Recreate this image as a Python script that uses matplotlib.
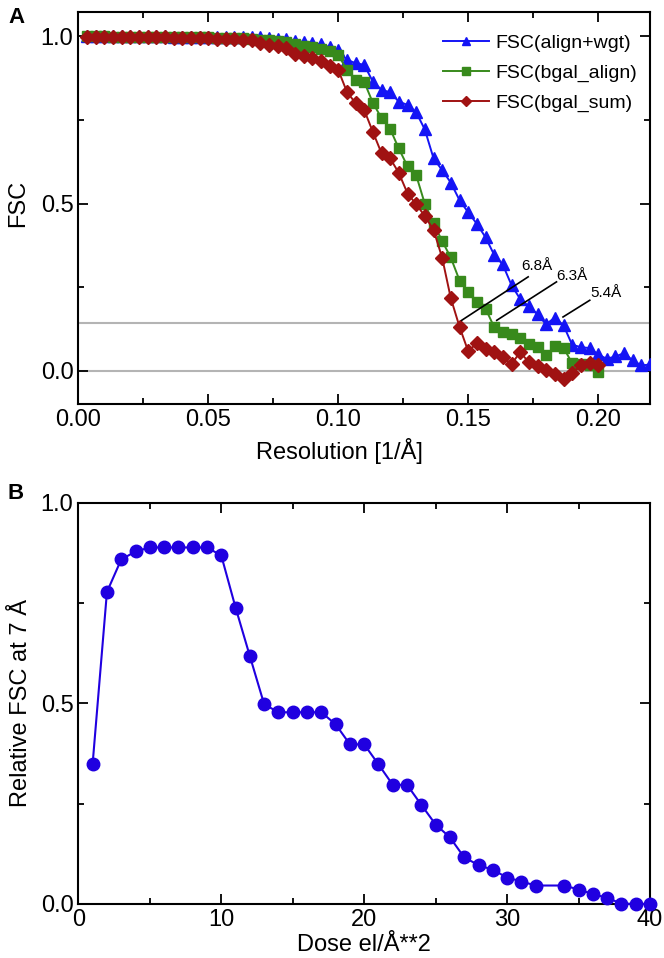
import matplotlib
matplotlib.use('Agg')
import matplotlib.pyplot as plt
from matplotlib.ticker import MultipleLocator

plt.rcParams['font.family'] = ['Liberation Sans', 'DejaVu Sans']

# Panel A: FSC curves (spatial frequency in 1/A)
freq = [0.0033, 0.0067, 0.0100, 0.0133, 0.0167, 0.0200, 0.0233, 0.0267, 0.0300, 0.0333,
        0.0367, 0.0400, 0.0433, 0.0467, 0.0500, 0.0533, 0.0567, 0.0600, 0.0633, 0.0667,
        0.0700, 0.0733, 0.0767, 0.0800, 0.0833, 0.0867, 0.0900, 0.0933, 0.0967, 0.1000,
        0.1033, 0.1067, 0.1100, 0.1133, 0.1167, 0.1200, 0.1233, 0.1267, 0.1300, 0.1333,
        0.1367, 0.1400, 0.1433, 0.1467, 0.1500, 0.1533, 0.1567, 0.1600, 0.1633, 0.1667,
        0.1700, 0.1733, 0.1767, 0.1800, 0.1833, 0.1867, 0.1900, 0.1933, 0.1967, 0.2000,
        0.2033, 0.2067, 0.2100, 0.2133, 0.2167, 0.2200]

fsc_wgt = [1.0, 1.0, 1.0, 1.0, 1.0, 1.0, 1.0, 1.0, 1.0, 1.0,
           0.999, 0.999, 0.999, 0.999, 0.999, 0.999, 0.999, 0.999, 0.999, 0.998,
           0.997, 0.995, 0.993, 0.992, 0.987, 0.983, 0.981, 0.976, 0.968, 0.958,
           0.930, 0.920, 0.915, 0.865, 0.840, 0.833, 0.805, 0.795, 0.773, 0.722,
           0.635, 0.600, 0.563, 0.510, 0.474, 0.440, 0.399, 0.347, 0.318, 0.256,
           0.215, 0.193, 0.169, 0.139, 0.159, 0.136, 0.078, 0.071, 0.068, 0.049,
           0.036, 0.043, 0.053, 0.031, 0.016, 0.019]

fsc_align = [1.0, 1.0, 1.0, 0.999, 0.999, 0.999, 0.999, 0.999, 0.998, 0.998,
             0.998, 0.998, 0.997, 0.997, 0.997, 0.996, 0.996, 0.995, 0.995, 0.993,
             0.990, 0.988, 0.985, 0.982, 0.978, 0.972, 0.967, 0.962, 0.955, 0.945,
             0.900, 0.869, 0.864, 0.802, 0.755, 0.723, 0.665, 0.611, 0.585, 0.500,
             0.441, 0.388, 0.339, 0.270, 0.235, 0.205, 0.186, 0.131, 0.115, 0.110,
             0.099, 0.081, 0.071, 0.046, 0.073, 0.069, 0.023, 0.021, 0.016, -0.004]

fsc_sum = [0.999, 0.999, 0.999, 0.999, 0.998, 0.998, 0.998, 0.998, 0.997, 0.997,
           0.996, 0.996, 0.995, 0.995, 0.994, 0.993, 0.992, 0.991, 0.990, 0.988,
           0.980, 0.975, 0.972, 0.965, 0.947, 0.940, 0.935, 0.925, 0.912, 0.900,
           0.835, 0.800, 0.780, 0.715, 0.650, 0.635, 0.592, 0.530, 0.498, 0.463,
           0.421, 0.338, 0.218, 0.131, 0.059, 0.082, 0.065, 0.055, 0.041, 0.020,
           0.056, 0.026, 0.013, 0.001, -0.008, -0.023, -0.007, 0.016, 0.023, 0.016]

threshold = 0.143

# resolution labels: (text, crossing x, crossing y, line end x, line end y, text x, text y)
res_labels = [
    ('6.8Å', 0.1475, 0.151, 0.1731, 0.281, 0.1765, 0.313),
    ('6.3Å', 0.1610, 0.151, 0.1840, 0.266, 0.1900, 0.283),
    ('5.4Å', 0.1865, 0.161, 0.1968, 0.211, 0.2030, 0.234),
]

# Panel B: relative FSC at 7 A vs dose
dose = [1, 2, 3, 4, 5, 6, 7, 8, 9, 10, 11, 12, 13, 14, 15, 16, 17, 18, 19, 20,
        21, 22, 23, 24, 25, 26, 27, 28, 29, 30, 31, 32, 34, 35, 36, 37, 38, 39, 40]
rel_fsc = [0.350, 0.778, 0.859, 0.879, 0.889, 0.889, 0.889, 0.889, 0.889, 0.869,
           0.739, 0.618, 0.498, 0.478, 0.478, 0.478, 0.478, 0.448, 0.398, 0.398,
           0.348, 0.297, 0.297, 0.247, 0.198, 0.166, 0.116, 0.097, 0.085, 0.066,
           0.056, 0.046, 0.046, 0.036, 0.025, 0.015, 0.001, 0.0, 0.0]

fig = plt.figure(figsize=(6.64, 9.58), dpi=100)
axA = fig.add_axes([0.118, 0.578, 0.861, 0.4095])
axB = fig.add_axes([0.118, 0.0564, 0.861, 0.4186])

axA.axhline(0.0, color='#b4b4b4', lw=1.5, zorder=1)
axA.axhline(threshold, color='#b4b4b4', lw=1.5, zorder=1)

axA.plot(freq, fsc_wgt, color='#1414f5', marker='^', ms=8, lw=1.4,
         label='FSC(align+wgt)', zorder=3)
axA.plot(freq[:60], fsc_align, color='#388a1c', marker='s', ms=7, lw=1.4,
         label='FSC(bgal_align)', zorder=4)
axA.plot(freq[:60], fsc_sum, color='#a01212', marker='D', ms=7, lw=1.4,
         label='FSC(bgal_sum)', zorder=5)

for txt, x0, y0, x1, y1, tx, ty in res_labels:
    axA.plot([x0, x1], [y0, y1], color='black', lw=1.2, zorder=6)
    axA.text(tx, ty, txt, fontsize=11, ha='center', va='center', zorder=6)

axA.set_xlim(0, 0.22)
axA.set_ylim(-0.1, 1.073)
axA.xaxis.set_major_locator(MultipleLocator(0.05))
axA.xaxis.set_minor_locator(MultipleLocator(0.025))
axA.yaxis.set_major_locator(MultipleLocator(0.5))
axA.yaxis.set_minor_locator(MultipleLocator(0.25))
axA.xaxis.set_major_formatter(matplotlib.ticker.FormatStrFormatter('%.2f'))
axA.yaxis.set_major_formatter(matplotlib.ticker.FormatStrFormatter('%.1f'))
axA.set_xlabel('Resolution [1/Å]', fontsize=17, labelpad=2)
axA.set_ylabel('FSC', fontsize=17, labelpad=6)
axA.xaxis.set_label_coords(0.456, -0.085)
axA.yaxis.set_label_coords(-0.086, 0.513)
axA.legend(loc='upper left', bbox_to_anchor=(0.62, 0.967), frameon=False,
           fontsize=14, handlelength=2.4, handletextpad=0.3, labelspacing=0.62,
           borderpad=0, markerscale=0.8)

axB.plot(dose, rel_fsc, color='#2000e0', marker='o', ms=9, lw=1.5, clip_on=False,
         zorder=3)
axB.set_xlim(0, 40)
axB.set_ylim(0, 1.0)
axB.xaxis.set_major_locator(MultipleLocator(10))
axB.xaxis.set_minor_locator(MultipleLocator(5))
axB.yaxis.set_major_locator(MultipleLocator(0.5))
axB.yaxis.set_minor_locator(MultipleLocator(0.25))
axB.yaxis.set_major_formatter(matplotlib.ticker.FormatStrFormatter('%.1f'))
axB.set_xlabel('Dose el/Å**2', fontsize=17, labelpad=2)
axB.set_ylabel('Relative FSC at 7 Å', fontsize=17, labelpad=6)

for ax in (axA, axB):
    for sp in ax.spines.values():
        sp.set_linewidth(1.5)
    ax.tick_params(which='both', direction='in', top=True, right=True,
                   width=1.3, labelsize=17)
    ax.tick_params(which='major', length=7)
    ax.tick_params(which='minor', length=4)

fig.text(0.012, 0.982, 'A', fontsize=16, fontweight='bold', va='center')
fig.text(0.012, 0.485, 'B', fontsize=16, fontweight='bold', va='center')

fig.savefig('out.png', dpi=100)
